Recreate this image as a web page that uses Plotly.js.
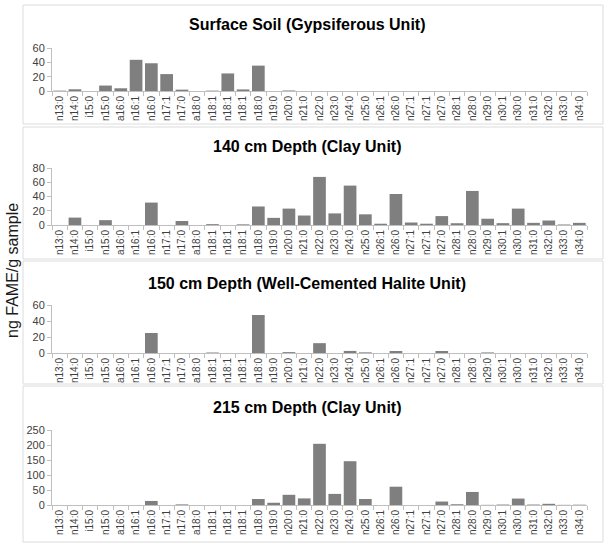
<!DOCTYPE html>
<html>
<head>
<meta charset="utf-8">
<script src="https://cdn.plot.ly/plotly-3.0.1.min.js"></script>
<style>html,body{margin:0;padding:0;background:#fff;}#chart{width:606px;height:546px;}</style>
</head>
<body>
<div id="chart"></div>
<script>
var categories = ["n13:0","n14:0","i15:0","n15:0","a16:0","n16:1","n16:0","n17:1","n17:0","a18:0","n18:1","n18:1","n18:1","n18:0","n19:0","n20:0","n21:0","n22:0","n23:0","n24:0","n25:0","n26:1","n26:0","n27:1","n27:1","n27:0","n28:1","n28:0","n29:0","n30:1","n30:0","n31:0","n32:0","n33:0","n34:0"];

var panelTitles = ["Surface Soil (Gypsiferous Unit)","140 cm Depth (Clay Unit)","150 cm Depth (Well-Cemented Halite Unit)","215 cm Depth (Clay Unit)"];

var surfaceSoil = [0.5,2.4,0,7.6,3.8,43.5,38.7,23.6,1.9,0,0.5,24.5,2.2,35.4,0,0.7,0,0,0,0,0,0,0,0,0,0,0,0,0,0,0,0,0,0,0];
var depth140 = [0,10.4,0,6.8,0,0,31.5,0,5.6,0,1.2,0,0.9,26,10,23,13.3,67.5,16.3,55.3,15,1.8,43.5,3.5,1.8,12.5,2.5,47.8,8.8,2.6,23,3,6.3,0.7,3];
var depth150 = [0,0,0,0,0,0,25,0,0,0,0.6,0,0,47.5,0,1.1,0,12.3,0,2.6,0.8,0,2.5,0,0,2.5,0,0,0.7,0,0,0,0,0,0];
var depth215 = [0,0,0,0,0,0,13.5,0,2,0,0,0,0,20,7.5,34,22,204,37,146,20,0,61,0,0,11.5,2.5,43.5,0.5,1.5,21.5,1.5,4,0.5,1];

var yRanges = [[0,60],[0,80],[0,60],[0,250]];
var yDticks = [20,20,20,50];

var W = 606, H = 546;
function px(x){ return x / W; }
function py(y){ return 1 - y / H; }

var seriesList = [surfaceSoil, depth140, depth150, depth215];
var plotTops = [48, 168, 305, 430];
var plotBottoms = [91, 225, 353, 505];
var boxTops = [5, 127, 261, 386];
var boxBottoms = [124, 259, 384, 542];
var titleY = [25, 147, 283, 407];

var xIdx = categories.map(function(c, i){ return i; });
var boundaries = categories.map(function(c, i){ return i - 0.5; }).concat([categories.length - 0.5]);

var traces = [];
var layout = {
  width: W, height: H,
  margin: {l:0, r:0, t:0, b:0},
  paper_bgcolor: '#ffffff',
  plot_bgcolor: '#ffffff',
  showlegend: false,
  bargap: 0.17,
  font: {family: '"Liberation Sans", Arial, sans-serif', color: '#404040'},
  shapes: [],
  annotations: []
};

seriesList.forEach(function(vals, k){
  var n = k + 1;
  var xa = n === 1 ? 'x' : 'x' + n;
  var ya = n === 1 ? 'y' : 'y' + n;
  traces.push({
    type: 'bar', x: xIdx, y: vals, xaxis: xa, yaxis: ya,
    marker: {color: '#7f7f7f', line: {width: 0}},
    hoverinfo: 'skip'
  });
  var xkey = n === 1 ? 'xaxis' : 'xaxis' + n;
  var ykey = n === 1 ? 'yaxis' : 'yaxis' + n;
  layout[xkey] = {
    domain: [px(52), px(587)],
    anchor: ya,
    range: [-0.5, categories.length - 0.5],
    tickmode: 'array', tickvals: xIdx, ticktext: categories,
    tickangle: -90, ticks: '', ticklen: 0,
    tickfont: {size: 10, color: '#404040', family: '"Liberation Sans", Arial, sans-serif'},
    showline: true, linecolor: '#bfbfbf', linewidth: 1,
    showgrid: false, zeroline: false, fixedrange: true,
    minor: {tickmode: 'array', tickvals: boundaries, ticks: 'outside', ticklen: 4, tickcolor: '#bfbfbf', tickwidth: 1, showgrid: false}
  };
  layout[ykey] = {
    domain: [py(plotBottoms[k]), py(plotTops[k])],
    anchor: xa,
    range: yRanges[k], dtick: yDticks[k], tick0: 0,
    ticks: 'outside', ticklen: 4, tickcolor: '#bfbfbf',
    tickfont: {size: 11, color: '#404040', family: '"Liberation Sans", Arial, sans-serif'},
    showline: true, linecolor: '#bfbfbf', linewidth: 1,
    showgrid: false, zeroline: false, fixedrange: true
  };
  layout.shapes.push({
    type: 'rect', xref: 'paper', yref: 'paper',
    x0: px(23), x1: px(603), y0: py(boxBottoms[k]), y1: py(boxTops[k]),
    line: {color: '#dcdcdc', width: 1}, fillcolor: 'rgba(0,0,0,0)', layer: 'below'
  });
  layout.annotations.push({
    xref: 'paper', yref: 'paper', x: px(307), y: py(titleY[k]),
    xanchor: 'center', yanchor: 'middle', showarrow: false,
    text: '<b>' + panelTitles[k] + '</b>',
    font: {size: 16, color: '#000000', family: '"Liberation Sans", Arial, sans-serif'}
  });
});

layout.annotations.push({
  xref: 'paper', yref: 'paper', x: px(12), y: py(271),
  xanchor: 'center', yanchor: 'middle', showarrow: false, textangle: -90,
  text: 'ng FAME/g sample',
  font: {size: 16, color: '#1a1a1a', family: '"Liberation Sans", Arial, sans-serif'}
});

Plotly.newPlot('chart', traces, layout, {displayModeBar: false, staticPlot: true});
</script>
</body>
</html>
